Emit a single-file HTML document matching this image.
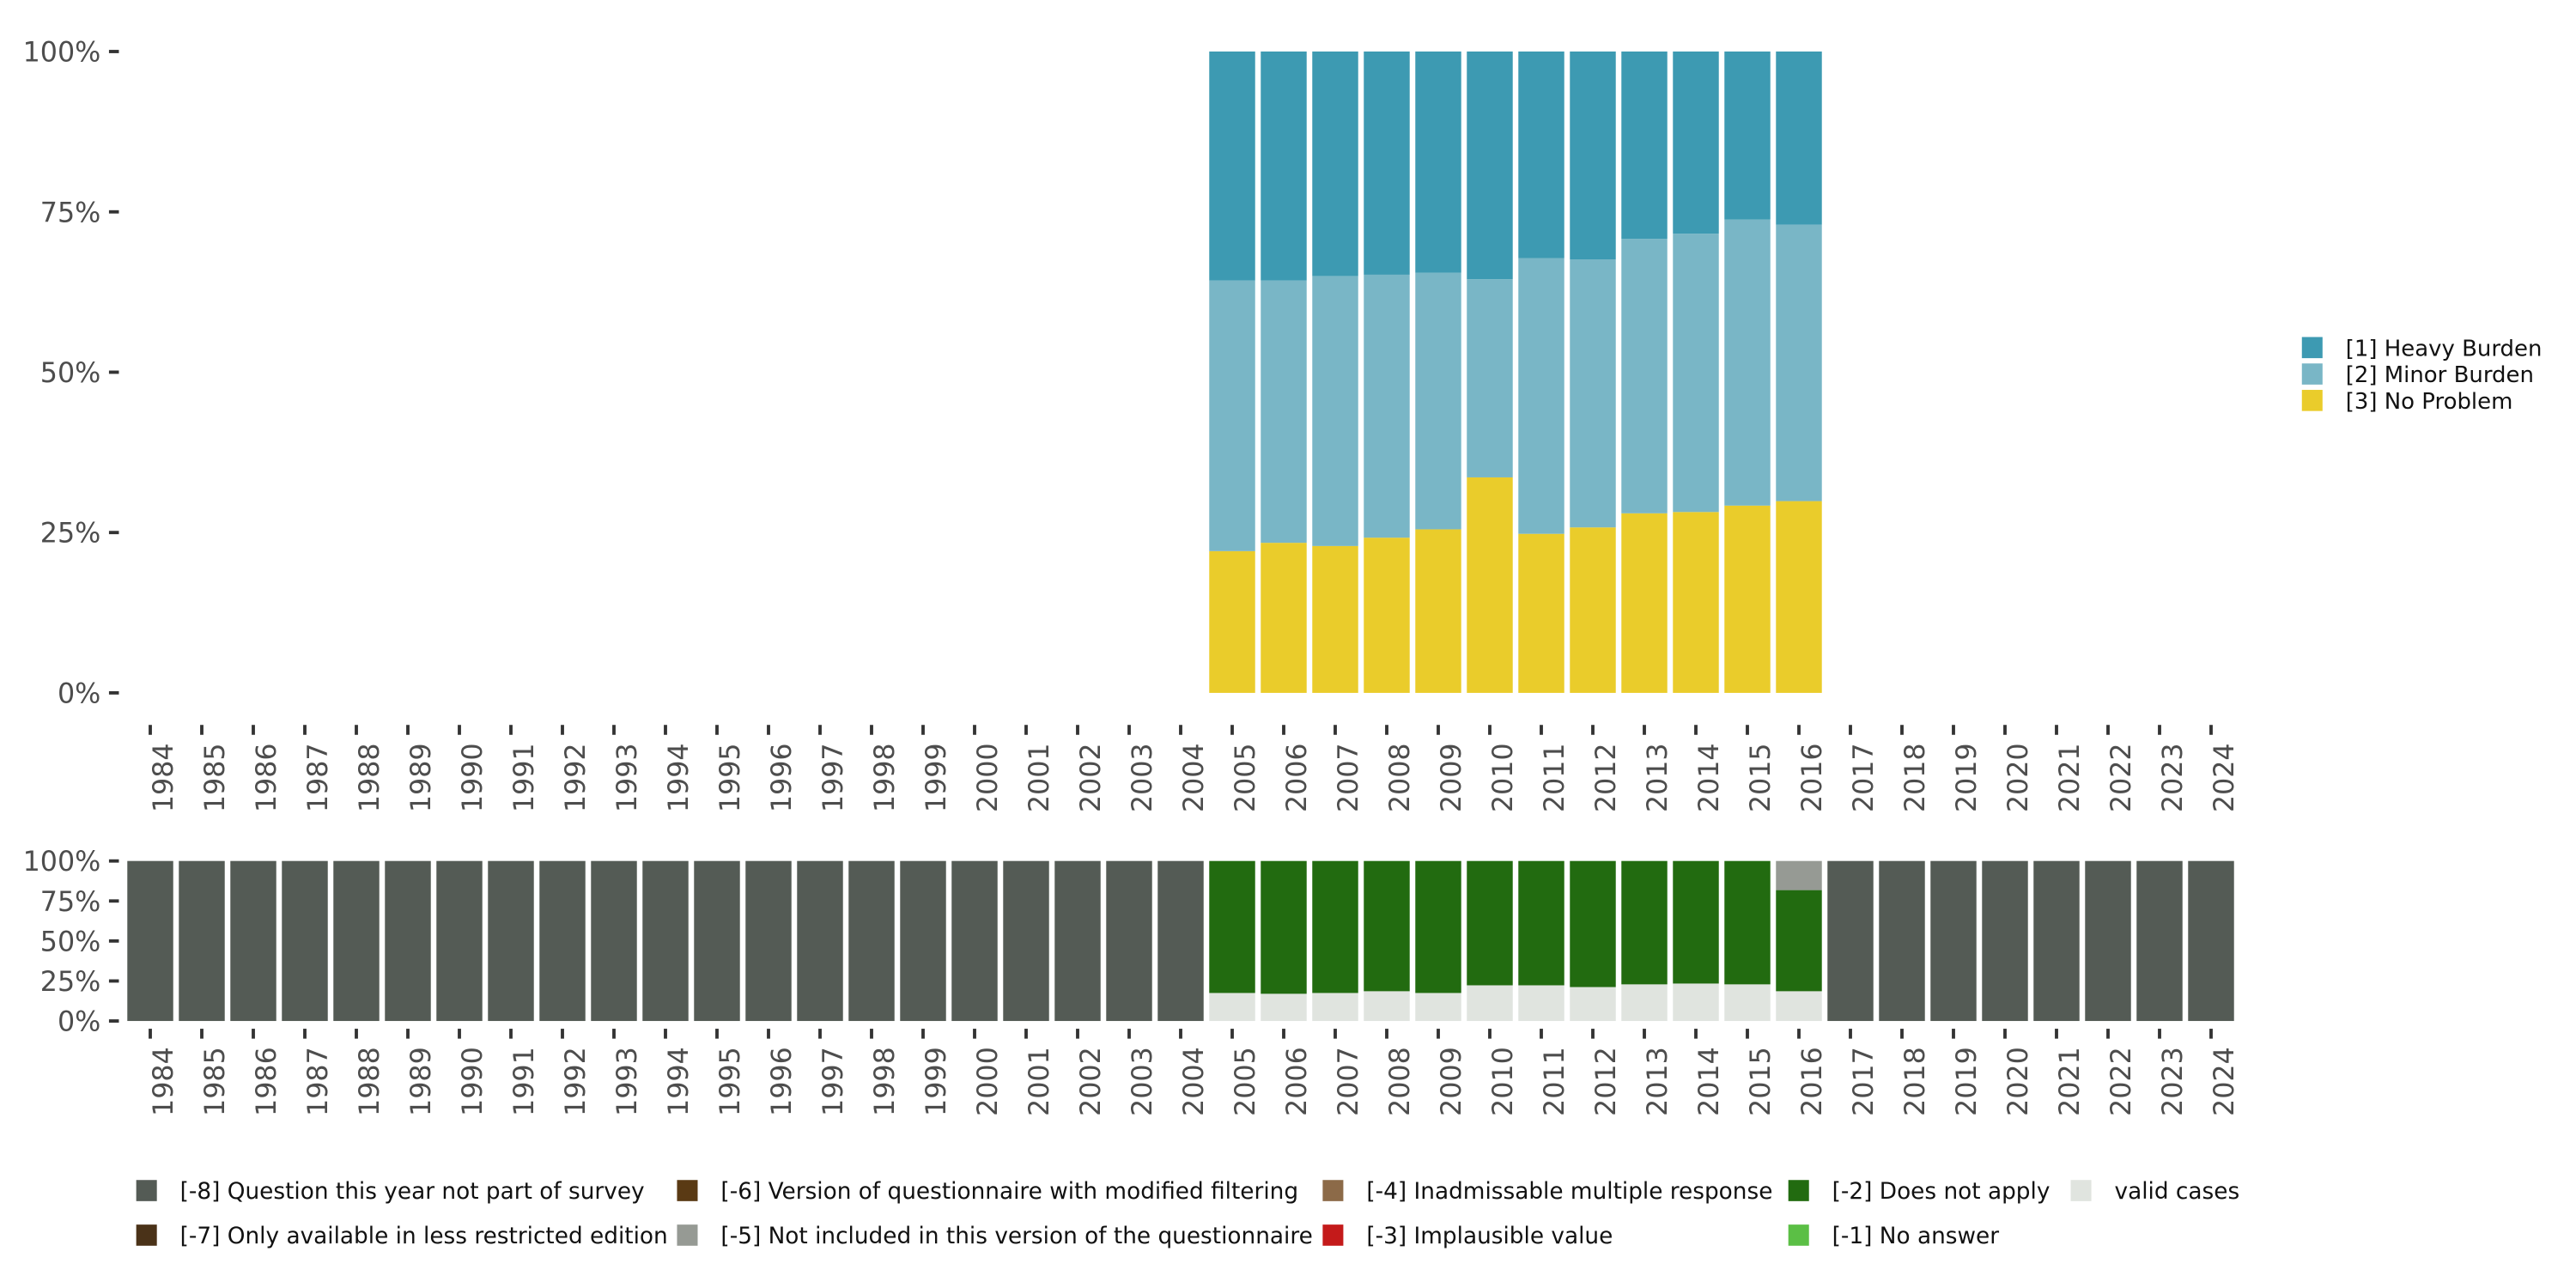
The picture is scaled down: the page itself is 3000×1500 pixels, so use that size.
<!DOCTYPE html>
<html><head><meta charset="utf-8"><style>
html,body{margin:0;padding:0;background:#fff}
svg{display:block}
text{font-family:"DejaVu Sans","Liberation Sans",sans-serif;fill:#4d4d4d}
</style></head><body>
<svg id="chart" width="3000" height="1500" viewBox="0 0 1560 780" xmlns="http://www.w3.org/2000/svg">
<g id="topPanel"></g>
<g id="botPanel"></g>
<g id="leg"></g>
</svg>
<script>
const years = [];
for (let y = 1984; y <= 2024; y++) years.push(y);
const dataYears = [2005,2006,2007,2008,2009,2010,2011,2012,2013,2014,2015,2016];
const noProblem = [22.1,23.4,22.9,24.2,25.5,33.6,24.8,25.8,28.0,28.2,29.2,29.9];
const minorBurden = [42.2,40.9,42.1,41.0,40.0,30.9,43.0,41.8,42.8,43.4,44.6,43.1];
const heavyBurden = [35.7,35.7,35.0,34.8,34.5,35.5,32.2,32.4,29.2,28.4,26.2,27.0];
const validCases = [17.5,17.0,17.5,18.6,17.5,22.3,22.3,21.2,22.9,23.4,22.9,18.6];
const notIncluded = [0,0,0,0,0,0,0,0,0,0,0,18.2];
const yTicks = [0,25,50,75,100];
const yTickLabels = ["0%","25%","50%","75%","100%"];

const NS = "http://www.w3.org/2000/svg";
function mk(tag, attrs, parent){const e=document.createElementNS(NS,tag);for(const k in attrs)e.setAttribute(k,attrs[k]);parent.appendChild(e);return e;}
const x0 = 91, step = 31.2, bw = 27.8;
function xScale(year){return x0 + (year-1984)*step;}
function yTop(v){return 419.6 - v/100*388.4;}
function yBot(v){return 618.3 - v/100*96.9;}

const topG = document.getElementById('topPanel');
const botG = document.getElementById('botPanel');

function axes(g, ys, labelY, tickY1, tickY2){
  yTicks.forEach((t,i)=>{
    const y = ys(t);
    const tk = mk('line',{x1:66,x2:72,y1:y,y2:y,stroke:'#333','stroke-width':2},g);
    
    
    const tx = mk('text',{x:61,y:y+6,'text-anchor':'end','font-size':16.5},g);
    tx.textContent = yTickLabels[i];
    
    
  });
  years.forEach(yr=>{
    const x = xScale(yr);
    const tk = mk('line',{x1:x,x2:x,y1:tickY1,y2:tickY2,stroke:'#333','stroke-width':2},g);
    
    
    const tx = mk('text',{x:0,y:0,'text-anchor':'end','font-size':16.5,transform:`translate(${x+13.5},${labelY}) rotate(-90)`},g);
    tx.textContent = yr;
    
    
  });
}
axes(topG, yTop, 450, 439, 445);
axes(botG, yBot, 634, 623, 629);

function seg(g, yr, lo, hi, ys, color, name){
  const r = mk('rect',{x:xScale(yr)-bw/2,y:ys(hi),width:bw,height:ys(lo)-ys(hi),fill:color},g);
  
  
}
dataYears.forEach((yr,i)=>{
  const a = noProblem[i], b = a+minorBurden[i], c = b+heavyBurden[i];
  seg(topG, yr, 0, a, yTop, '#eacc2b', 'bar-no-problem');
  seg(topG, yr, a, b, yTop, '#79b6c6', 'bar-minor-burden');
  seg(topG, yr, b, Math.min(c,100), yTop, '#3d9ab2', 'bar-heavy-burden');
});
years.forEach(yr=>{
  const i = dataYears.indexOf(yr);
  if (i < 0) { seg(botG, yr, 0, 100, yBot, '#545b55', 'bar-not-in-survey'); return; }
  const v = validCases[i], n = notIncluded[i];
  seg(botG, yr, 0, v, yBot, '#e0e4df', 'bar-valid-cases');
  seg(botG, yr, v, 100-n, yBot, '#226b10', 'bar-does-not-apply');
  if (n > 0) seg(botG, yr, 100-n, 100, yBot, '#969a94', 'bar-not-included');
});

const leg = document.getElementById('leg');
function legItem(x,y,color,label,name,fs){
  const r = mk('rect',{x:x,y:y-6.4,width:12.5,height:12.8,fill:color},leg);
  
  
  const t = mk('text',{x:x+26.5,y:y+5,'font-size':fs,style:'fill:#111'},leg);
  t.textContent = label;
  
  
}
legItem(1394,210.5,'#3d9ab2','[1] Heavy Burden','legend-heavy-burden',13.5);
legItem(1394,226.5,'#79b6c6','[2] Minor Burden','legend-minor-burden',13.5);
legItem(1394,242.5,'#eacc2b','[3] No Problem','legend-no-problem',13.5);
legItem(82.5,721,'#545b55','[-8] Question this year not part of survey','legend-m8',13.7);
legItem(82.5,748,'#4a3218','[-7] Only available in less restricted edition','legend-m7',13.7);
legItem(410,721,'#5a3a14','[-6] Version of questionnaire with modified filtering','legend-m6',13.7);
legItem(410,748,'#969a94','[-5] Not included in this version of the questionnaire','legend-m5',13.7);
legItem(801,721,'#8c6a48','[-4] Inadmissable multiple response','legend-m4',13.7);
legItem(801,748,'#c41a1a','[-3] Implausible value','legend-m3',13.7);
legItem(1083,721,'#226b10','[-2] Does not apply','legend-m2',13.7);
legItem(1083,748,'#5bbf45','[-1] No answer','legend-m1',13.7);
legItem(1254,721,'#e0e4df','valid cases','legend-valid',13.7);
</script>
</body></html>
